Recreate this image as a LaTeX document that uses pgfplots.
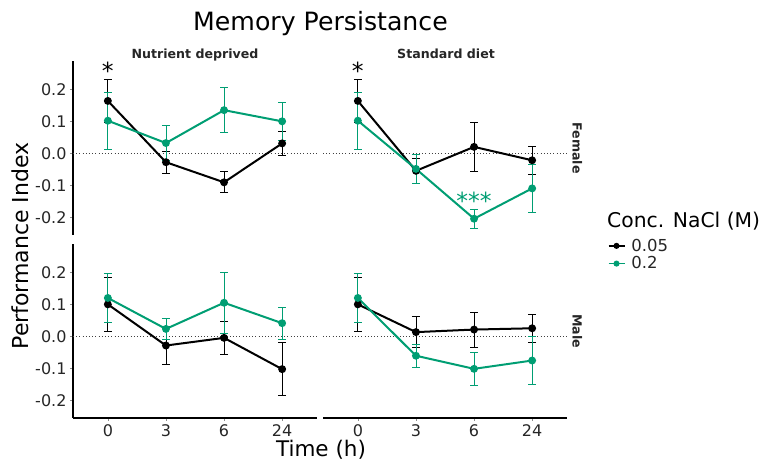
\documentclass[border=0pt]{standalone}
\usepackage{pgfplots}
\pgfplotsset{compat=1.18}
\usepackage{fontspec}
\setmainfont{DejaVu Sans}

\definecolor{hiconc}{RGB}{0,158,115}
\newcommand{\fs}[1]{\fontsize{#1pt}{#1pt}\selectfont}

\tikzset{sigmark/.style={anchor=base, font=\fs{23.5}}}

\pgfplotsset{
  panel/.style={
    scale only axis, width=244pt, height=174pt,
    xmin=-0.6, xmax=3.6, ymin=-0.255, ymax=0.29,
    axis lines*=left,
    axis line style={-, line width=1.6pt, black},
    tick style={black!45, line width=0.5pt},
    major tick length=3pt, tick align=outside,
    xtick={0,1,2,3}, xticklabels={0,3,6,24},
    ytick={-0.2,-0.1,0,0.1,0.2}, yticklabels={-0.2,-0.1,0.0,0.1,0.2},
    ticklabel style={font=\fs{16}, text=black!85},
    clip=false,
  },
  hidex/.style={x axis line style={draw=none}, xtick=\empty},
  hidey/.style={y axis line style={draw=none}, ytick=\empty},
  zeroline/.style={forget plot, black!75, line width=0.8pt, dash pattern=on 0.8pt off 2.4pt},
  lo/.style={black, line width=2pt, mark=*, mark size=2.9pt, mark options={solid},
    error bars/.cd, y dir=both, y explicit,
    error bar style={line width=0.8pt}, error mark options={rotate=90, line width=0.8pt, mark size=4pt}},
  hi/.style={hiconc, line width=2pt, mark=*, mark size=2.9pt, mark options={solid},
    error bars/.cd, y dir=both, y explicit,
    error bar style={line width=0.8pt}, error mark options={rotate=90, line width=0.8pt, mark size=4pt}},
}

\begin{document}
\begin{tikzpicture}
\useasboundingbox (0,0) rectangle (766pt,463pt);

% Female, nutrient deprived
\begin{axis}[panel, hidex, at={(73pt,228pt)}, anchor=south west]
  \addplot[zeroline] coordinates {(-0.6,0) (3.6,0)};
  \addplot[lo] coordinates {(0,0.165) +- (0,0.067) (1,-0.027) +- (0,0.035) (2,-0.090) +- (0,0.033) (3,0.032) +- (0,0.039)};
  \addplot[hi] coordinates {(0,0.103) +- (0,0.090) (1,0.033) +- (0,0.055) (2,0.136) +- (0,0.070) (3,0.101) +- (0,0.059)};
  \node[sigmark, black] at (axis cs:0,0.232) {*};
\end{axis}

% Female, standard diet
\begin{axis}[panel, hidex, hidey, at={(323pt,228pt)}, anchor=south west,
  legend entries={0.05,0.2},
  legend style={at={(1.166,-0.016)}, anchor=north west, draw=none, fill=none,
    font=\fs{16.5}, inner sep=0pt, row sep=2pt, text=black!85,
    nodes={inner xsep=6pt, inner ysep=1pt}},
  legend cell align=left,
  legend image code/.code={\draw[mark repeat=2, mark phase=2, mark size=2.2pt, line width=1.6pt] plot coordinates {(0pt,0pt) (8pt,0pt) (16pt,0pt)};}]
  \addplot[zeroline] coordinates {(-0.6,0) (3.6,0)};
  \addplot[lo] coordinates {(0,0.165) +- (0,0.067) (1,-0.054) +- (0,0.038) (2,0.021) +- (0,0.078) (3,-0.021) +- (0,0.043)};
  \addplot[hi] coordinates {(0,0.103) +- (0,0.090) (1,-0.048) +- (0,0.045) (2,-0.204) +- (0,0.030) (3,-0.109) +- (0,0.075)};
  \node[sigmark, black] at (axis cs:0,0.232) {*};
  \node[sigmark, hiconc] at (axis cs:2,-0.174) {***};
\end{axis}

% Male, nutrient deprived
\begin{axis}[panel, at={(73pt,45pt)}, anchor=south west]
  \addplot[zeroline] coordinates {(-0.6,0) (3.6,0)};
  \addplot[lo] coordinates {(0,0.101) +- (0,0.084) (1,-0.028) +- (0,0.060) (2,-0.004) +- (0,0.051) (3,-0.102) +- (0,0.083)};
  \addplot[hi] coordinates {(0,0.121) +- (0,0.078) (1,0.024) +- (0,0.033) (2,0.106) +- (0,0.096) (3,0.042) +- (0,0.050)};
\end{axis}

% Male, standard diet
\begin{axis}[panel, hidey, at={(323pt,45pt)}, anchor=south west]
  \addplot[zeroline] coordinates {(-0.6,0) (3.6,0)};
  \addplot[lo] coordinates {(0,0.101) +- (0,0.084) (1,0.014) +- (0,0.049) (2,0.022) +- (0,0.055) (3,0.026) +- (0,0.043)};
  \addplot[hi] coordinates {(0,0.121) +- (0,0.078) (1,-0.060) +- (0,0.037) (2,-0.101) +- (0,0.051) (3,-0.075) +- (0,0.076)};
\end{axis}

% titles, strips and axis labels
\node[anchor=base, font=\fs{25.2}] at (320.5pt,432.3pt) {Memory Persistance};
\node[anchor=base, font=\bfseries\fs{12.6}, text=black!85] at (195pt,404.7pt) {Nutrient deprived};
\node[anchor=base, font=\bfseries\fs{12.6}, text=black!85] at (446pt,404.7pt) {Standard diet};
\node[anchor=base, rotate=-90, font=\bfseries\fs{12.6}, text=black!85] at (572.5pt,315pt) {Female};
\node[anchor=base, rotate=-90, font=\bfseries\fs{12.6}, text=black!85] at (572.5pt,132pt) {Male};
\node[anchor=base, rotate=90, font=\fs{22}] at (28pt,217pt) {Performance Index};
\node[anchor=base, font=\fs{21.5}] at (321pt,6pt) {Time (h)};
\node[anchor=base west, font=\fs{20.3}, inner xsep=0pt] at (607pt,235pt) {Conc. NaCl (M)};
\end{tikzpicture}
\end{document}
